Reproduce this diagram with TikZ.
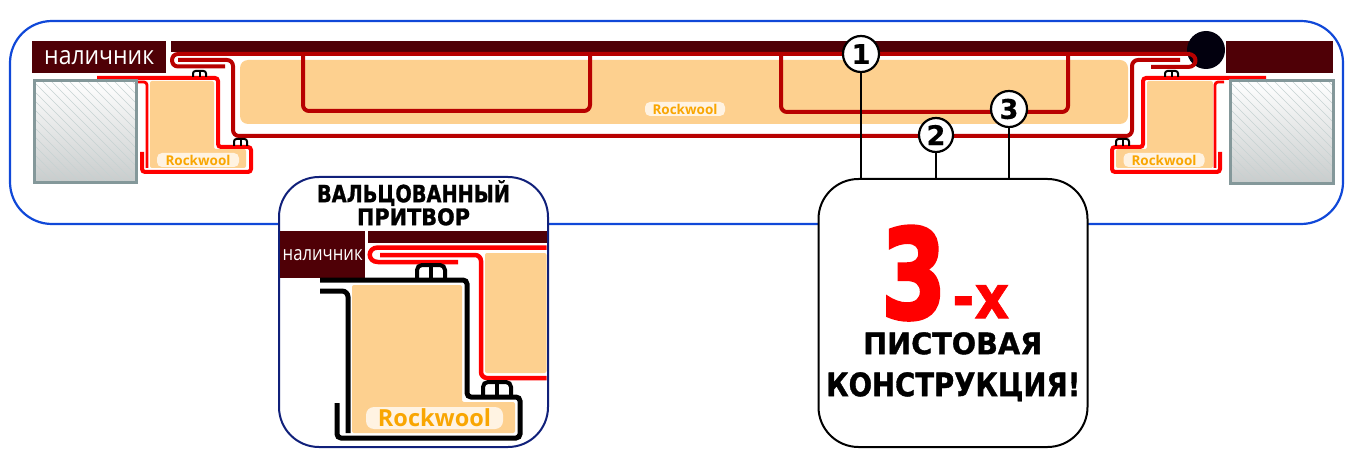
\documentclass[tikz,border=0pt]{standalone}
\usepackage{graphicx}
\usepackage{fontspec}
\setmainfont{Open Sans}
\newfontfamily\techfont[BoldFont=DejaVu Sans Bold,BoldFeatures={FakeBold=1.2}]{DejaVu Sans}
\newfontfamily\bigfont[BoldFont=DejaVu Sans Bold,BoldFeatures={FakeBold=3}]{DejaVu Sans}
\newfontfamily\numfont[BoldFont=DejaVu Sans Bold,BoldFeatures={FakeBold=0.6}]{DejaVu Sans}
\definecolor{frameblue}{HTML}{1048D8}
\definecolor{navyline}{HTML}{10207A}
\definecolor{trim}{HTML}{4F0006}
\definecolor{darkred}{HTML}{B80000}
\definecolor{brightred}{HTML}{FF0000}
\definecolor{foam}{HTML}{FDD08F}
\definecolor{pillfill}{HTML}{FFF3E2}
\definecolor{woolorange}{HTML}{F9A602}
\definecolor{wallgray}{HTML}{84989A}
\definecolor{wallend}{HTML}{C8CCCC}
\definecolor{hatch}{HTML}{C6D2D2}
\definecolor{ballblack}{HTML}{02000E}
\newcommand{\fittext}[3]{\resizebox{#1pt}{#2pt}{\raisebox{0pt}[\height][0pt]{#3}}}
\newcommand{\wallblock}[4]{%
  \begin{scope}
    \clip (#1,#2) rectangle (#3,#4);
    \shade[top color=white,bottom color=wallend] (#1,#2) rectangle (#3,#4);
    \foreach \k in {-100,-91,...,110}
      \draw[hatch,line width=0.5pt] (#1+\k,#2) -- (#1+\k+104,#2+104);
  \end{scope}
  \draw[wallgray,line width=3pt] (#1,#2) rectangle (#3,#4);
}
\newcommand{\seam}[4]{% x0 x1 ybase ytop
  \draw[seamline,rounded corners=2.5pt] (#1,#3) -- (#1,#4) -- (#2,#4) -- (#2,#3);
  \draw[seamline,line cap=butt] ({(#1+#2)/2},#3) -- ({(#1+#2)/2},#4);
}
\tikzset{
  seamline/.style={black,line width=2pt},
  bigseam/.style={seamline,line width=4pt},
  foamfill/.style={fill=foam,draw=none,rounded corners=2pt},
  darkpipe/.style={darkred,line width=4pt,line join=round},
  redpipe/.style={brightred,line width=4pt,rounded corners=3pt},
  pill/.style={fill=pillfill,rounded corners=5pt,text=woolorange,font=\bfseries,inner sep=0pt},
  trimbox/.style={fill=trim,draw=none},
  numdot/.style={circle,draw=black,fill=white,line width=2.2pt,inner sep=0pt,font=\numfont\bfseries\fontsize{27}{27}\selectfont},
  conn/.style={black,line width=2pt},
  roundbox/.style={draw,fill=white,rounded corners=40pt,line width=2pt,inner sep=0pt},
}
\begin{document}
\begin{tikzpicture}[x=1pt,y=-1pt]
\useasboundingbox (0,0) rectangle (1365,449);
% outer frame
\draw[frameblue,line width=2.2pt,rounded corners=42pt] (10,21) rectangle (1343,224);

% top bar and casings
\fill[trim] (171,41) rectangle (1192,52);
\node[trimbox,anchor=north west,minimum width=134pt,minimum height=32pt,inner sep=0pt] (trimL) at (32,41)
  {\textcolor{white}{\fittext{110}{14}{наличник}}};
\node[trimbox,anchor=north west,minimum width=107pt,minimum height=32pt,inner sep=0pt] (trimR) at (1226,41) {};
\fill[ballblack] (1206,50) circle (19);

% foam
\fill[foamfill,rounded corners=8pt] (240,60) rectangle (1128,124);
\fill[foamfill] (150,81) -- (214,81) -- (214,149) -- (246,149) -- (246,168) -- (150,168) -- cycle;
\fill[foamfill] (1147,81) -- (1213,81) -- (1213,168) -- (1116,168) -- (1116,149) -- (1147,149) -- cycle;

% dark sheet pipes
\draw[darkpipe] (1190,54) -- (178,54) .. controls (170,54) and (170,66.5) .. (178,66.5) -- (225,66.5);
\draw[darkpipe,rounded corners=6pt] (178,60) -- (233,60) -- (233,136) -- (1132,136) -- (1132,60) -- (1180,60);
\draw[darkpipe] (1188,54) .. controls (1198,54) and (1198,67) .. (1188,67) -- (1151,67);
\draw[darkpipe,rounded corners=6pt] (303,54) -- (303,111) -- (590,111) -- (590,54);
\draw[darkpipe,rounded corners=6pt] (781,54) -- (781,112) -- (1068,112) -- (1068,54);

% bright red leaves
\draw[redpipe] (97,78) -- (218,78) -- (218,147) -- (251,147) -- (251,172) -- (142,172) -- (142,152);
\draw[redpipe,line width=2.8pt] (138,82) -- (147,82) -- (147,168);
\draw[redpipe] (1266,78) -- (1143,78) -- (1143,147) -- (1112,147) -- (1112,172) -- (1220,172) -- (1220,152);
\draw[redpipe,line width=2.8pt] (1224,82) -- (1215,82) -- (1215,168);

% seams
\seam{193}{206}{77}{71}
\seam{234}{247}{146}{139}
\seam{1165}{1178}{77}{71}
\seam{1116}{1129}{146}{139}

% walls
\wallblock{34}{81}{136}{183}
\wallblock{1230}{81}{1333}{184}

% wool labels
\node[pill,minimum width=80pt,minimum height=14pt,font=\bfseries\fontsize{13.5}{13.5}\selectfont] (woolC) at (685,109) {Rockwool};
\node[pill,minimum width=82pt,minimum height=14pt,font=\bfseries\fontsize{13.5}{13.5}\selectfont] (woolL) at (198,160) {Rockwool};
\node[pill,minimum width=81pt,minimum height=14pt,font=\bfseries\fontsize{13.5}{13.5}\selectfont] (woolR) at (1164,160) {Rockwool};

% inset box
\node[roundbox,draw=navyline,minimum width=269pt,minimum height=270pt,anchor=north west] (inset) at (278,176) {};
\node[inner sep=0pt,anchor=north] (t1) at (413.5,180) {\techfont\bfseries\fittext{193}{22}{ВАЛЬЦОВАННЫЙ}};
\node[inner sep=0pt,anchor=north] (t2) at (413.5,208) {\techfont\bfseries\fittext{113}{17}{ПРИТВОР}};
\node[trimbox,anchor=north west,minimum width=85pt,minimum height=47pt,inner sep=0pt] (trimI) at (280,231)
  {\textcolor{white}{\fittext{80}{11}{наличник}}};
\fill[trim] (368,231) rectangle (546.5,243);
\fill[foamfill] (485,253) rectangle (546.5,373);
\fill[foamfill] (352,285) -- (462,285) -- (462,402) -- (515,402) -- (515,433) -- (352,433) -- cycle;
\draw[brightred,line width=4.5pt] (546.5,247.5) -- (378,247.5) .. controls (367,247.5) and (367,262) .. (378,262) -- (458,262);
\draw[brightred,line width=4.5pt,rounded corners=6pt] (380,255) -- (481,255) -- (481,378) -- (546.5,378);
\draw[black,line width=5pt,rounded corners=4pt] (320,280) -- (467,280) -- (467,397) -- (520,397) -- (520,438) -- (337,438) -- (337,403);
\draw[black,line width=5pt,rounded corners=6pt] (320,291) -- (348,291) -- (348,433);
\draw[bigseam,rounded corners=5pt] (417,280) -- (417,265) -- (445,265) -- (445,280);
\draw[bigseam] (431,265) -- (431,280);
\draw[bigseam,rounded corners=5pt] (483,397) -- (483,382) -- (511,382) -- (511,397);
\draw[bigseam] (497,382) -- (497,397);
\node[pill,rounded corners=8pt,minimum width=137pt,minimum height=22pt,font=\bfseries\fontsize{23.5}{23.5}\selectfont] (woolI) at (434.5,418) {Rockwool};

% summary box
\node[roundbox,draw=black,minimum width=269pt,minimum height=268pt,anchor=north west] (summary) at (817.5,178) {};
\node[inner sep=0pt,anchor=north west] (three) at (881,226) {\bigfont\bfseries\color{brightred}\fittext{65}{92}{3}};
\node[inner sep=0pt,anchor=north west] (dashx) at (952,285) {\techfont\bfseries\color{brightred}\fittext{57}{33}{-x}};
\node[inner sep=0pt,anchor=north west] (line1) at (863,332) {\techfont\bfseries\fittext{179}{22}{ПИСТОВАЯ}};
\node[inner sep=0pt,anchor=north west] (line2) at (826,372) {\techfont\bfseries\fittext{254}{24}{КОНСТРУКЦИЯ!}};

% numbered markers
\node[numdot,minimum size=36pt] (n1) at (861,54) {1};
\node[numdot,minimum size=34pt] (n2) at (936,135) {2};
\node[numdot,minimum size=36pt] (n3) at (1009,109) {3};
\draw[conn] (n1) -- (n1 |- summary.north);
\draw[conn] (n2) -- (n2 |- summary.north);
\draw[conn] (n3) -- (n3 |- summary.north);
\end{tikzpicture}
\end{document}
